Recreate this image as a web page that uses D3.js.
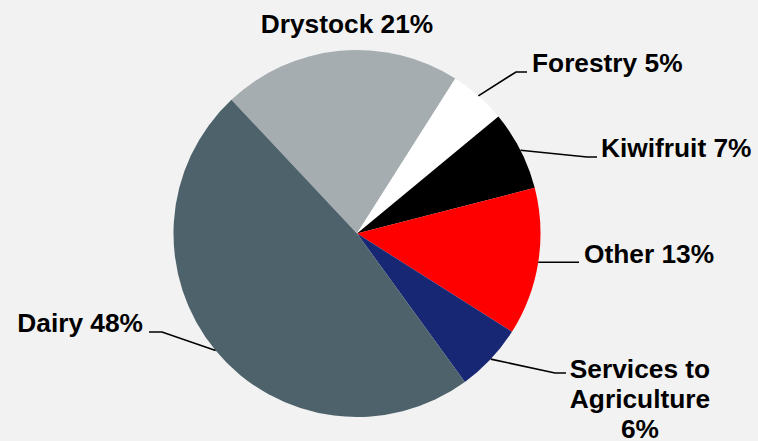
<!DOCTYPE html>
<html>
<head>
<meta charset="utf-8">
<script src="https://cdn.jsdelivr.net/npm/d3@7"></script>
<style>
  html, body { margin: 0; padding: 0; background: #f2f2f2; }
  svg { display: block; }
</style>
</head>
<body>
<svg id="chart" width="758" height="441"></svg>
<script>
const categories = ["Drystock", "Forestry", "Kiwifruit", "Other", "Services to Agriculture", "Dairy"];
const values = [21, 5, 7, 13, 6, 48];
const labelLines = [["Drystock 21%"], ["Forestry 5%"], ["Kiwifruit 7%"], ["Other 13%"], ["Services to", "Agriculture", "6%"], ["Dairy 48%"]];
const colors = ["#a5adb1", "#ffffff", "#000000", "#ff0000", "#172773", "#4d626b"];

// layout for labels: text anchor point, anchor type, elbow point (null = no leader)
const labelLayout = [
  { x: 347, y: 33, anchor: "middle", elbow: null },
  { x: 532, y: 72, anchor: "start", elbow: [516, 72], end: 527 },
  { x: 601, y: 157, anchor: "start", elbow: [587, 157], end: 597 },
  { x: 584, y: 263, anchor: "start", elbow: null, end: 579, straight: true },
  { x: 640, y: 378, anchor: "middle", elbow: [555, 373], end: 566 },
  { x: 143, y: 332, anchor: "end", elbow: [162, 332], end: 149 }
];

const svg = d3.select("#chart");
const cx = 357, cy = 233.5, r = 183.5;
const g = svg.append("g").attr("transform", `translate(${cx},${cy})`);

const startDeg = -43.2;
const pie = d3.pie().sort(null).value(d => d)
  .startAngle(startDeg * Math.PI / 180)
  .endAngle((startDeg + 360) * Math.PI / 180);
const arcs = pie(values);
const arc = d3.arc().innerRadius(0).outerRadius(r);

g.selectAll("path.slice").data(arcs).enter().append("path")
  .attr("class", "slice")
  .attr("d", arc)
  .attr("fill", (d, i) => colors[i]);

// leader lines
arcs.forEach((d, i) => {
  const L = labelLayout[i];
  const mid = (d.startAngle + d.endAngle) / 2;
  const p0 = [cx + r * Math.sin(mid), cy - r * Math.cos(mid)];
  let pts = null;
  if (L.straight) pts = [p0, [L.end, p0[1]]];
  else if (L.elbow) pts = [p0, L.elbow, [L.end, L.elbow[1]]];
  if (pts) {
    svg.append("polyline")
      .attr("points", pts.map(p => p.join(",")).join(" "))
      .attr("fill", "none")
      .attr("stroke", "#000")
      .attr("stroke-width", 1.6);
  }
});

// labels
labelLayout.forEach((L, i) => {
  const t = svg.append("text")
    .attr("x", L.x).attr("y", L.y)
    .attr("text-anchor", L.anchor)
    .attr("font-family", "Liberation Sans, Arial, sans-serif")
    .attr("font-weight", "bold")
    .attr("font-size", "26.3px")
    .attr("fill", "#000");
  labelLines[i].forEach((line, k) => {
    t.append("tspan").attr("x", L.x).attr("y", L.y + k * 30).text(line);
  });
});
</script>
</body>
</html>
